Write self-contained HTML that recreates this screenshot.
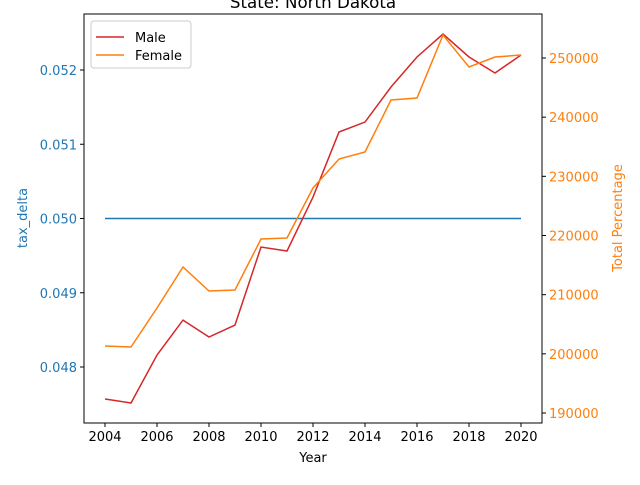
<!DOCTYPE html>
<html><head><meta charset="utf-8"><style>
body{margin:0;background:#fff}
svg text{font-family:"DejaVu Sans","Liberation Sans",sans-serif}
</style></head><body>
<svg id="chart" width="640" height="480" xmlns="http://www.w3.org/2000/svg">
<text x="313" y="8" font-size="16.7" text-anchor="middle">State: North Dakota</text>
<g id="g"></g>
</svg>
<script>
const years=[2004,2005,2006,2007,2008,2009,2010,2011,2012,2013,2014,2015,2016,2017,2018,2019,2020];
const male=[192370,191690,199800,205700,202840,204870,218050,217380,226500,237490,239180,245100,250170,254050,250170,247460,250500];
const female=[201320,201150,207750,214680,210620,210790,219410,219580,228030,232930,234110,242900,243240,253880,248480,250170,250500];
const taxDelta=[0.05,0.05,0.05,0.05,0.05,0.05,0.05,0.05,0.05,0.05,0.05,0.05,0.05,0.05,0.05,0.05,0.05];
const xTicks=[2004,2006,2008,2010,2012,2014,2016,2018,2020];
const leftTicks=[0.048,0.049,0.050,0.051,0.052];
const rightTicks=[190000,200000,210000,220000,230000,240000,250000];
const L=84,R=542,T=14,B=423;
const xs=v=>105+(v-2004)*26;
const yl=v=>367-(v-0.048)*74250;
const yr=v=>413-(v-190000)*355/60000;
const g=document.getElementById('g');const NS='http://www.w3.org/2000/svg';
function mk(t,a,p){const e=document.createElementNS(NS,t);for(const k in a)e.setAttribute(k,a[k]);(p||g).appendChild(e);return e;}
const frame=mk('rect',{x:L,y:T,width:R-L,height:B-T,fill:'none',stroke:'#000','stroke-width':1});


xTicks.forEach(v=>{const x=xs(v);
 const tk=mk('line',{x1:x,x2:x,y1:B,y2:B+4,stroke:'#000'});
 
 
 const t=mk('text',{x:x,y:B+18,'font-size':13,'text-anchor':'middle'});t.textContent=v;
 
 });
leftTicks.forEach(v=>{const y=yl(v);
 const tk=mk('line',{x1:L-4,x2:L,y1:y,y2:y,stroke:'#000'});
 
 
 const t=mk('text',{x:L-7,y:y+5,'font-size':13,'text-anchor':'end',fill:'#1f77b4'});t.textContent=v.toFixed(3);
 
 });
rightTicks.forEach(v=>{const y=yr(v);
 const tk=mk('line',{x1:R,x2:R+4,y1:y,y2:y,stroke:'#000'});
 
 
 const t=mk('text',{x:R+7,y:y+5,'font-size':13,fill:'#ff7f0e'});t.textContent=v;
 
 });
function line(vals,f,c,name){const p=mk('polyline',{points:vals.map((v,i)=>xs(years[i])+','+f(v)).join(' '),fill:'none',stroke:c,'stroke-width':1.5});
 
 }
line(taxDelta,yl,'#1f77b4','tax-delta-line');
line(male,yr,'#d62728','male-line');
line(female,yr,'#ff7f0e','female-line');
const xl=mk('text',{x:313,y:462,'font-size':13,'text-anchor':'middle'});xl.textContent='Year';


const ylab=mk('text',{x:0,y:0,'font-size':13,'text-anchor':'middle',fill:'#1f77b4',transform:'translate(27,218) rotate(-90)'});ylab.textContent='tax_delta';


const yrl=mk('text',{x:0,y:0,'font-size':13,'text-anchor':'middle',fill:'#ff7f0e',transform:'translate(622,218) rotate(-90)'});yrl.textContent='Total Percentage';


const lg=mk('rect',{x:91,y:21,width:100,height:47,rx:3,fill:'#fff',stroke:'#ccc'});


[['Male','#d62728',37],['Female','#ff7f0e',55]].forEach(([n,c,y])=>{
 const l=mk('line',{x1:96,x2:124,y1:y,y2:y,stroke:c,'stroke-width':1.5});
 
 
 const t=mk('text',{x:135,y:y+5,'font-size':13});t.textContent=n;
 
 });
</script>
</body></html>
